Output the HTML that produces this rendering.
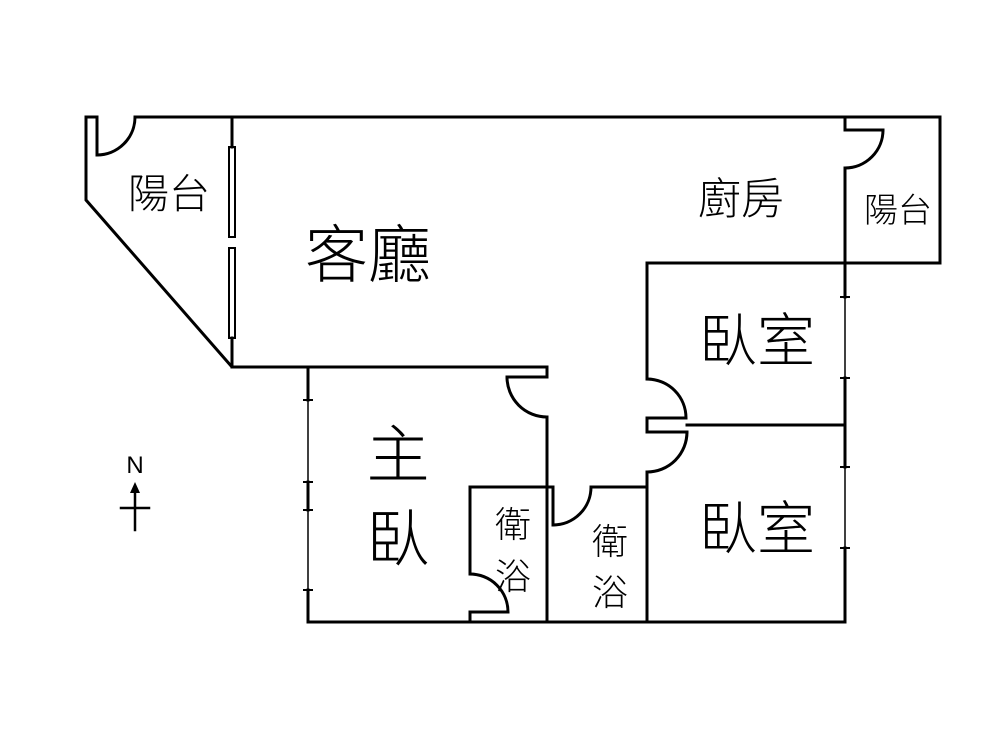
<!DOCTYPE html>
<html><head><meta charset="utf-8"><style>
html,body{margin:0;padding:0;background:#fff;}
svg{display:block;}
text{font-family:"Noto Sans CJK TC","Noto Sans CJK JP",sans-serif;font-weight:300;fill:#000;}
</style></head><body>
<svg width="1000" height="741" viewBox="0 0 1000 741" xmlns="http://www.w3.org/2000/svg">
<g fill="none" stroke="#000" stroke-width="3" stroke-linecap="square">
<path d="M86 117 H97 M135 117 H940 V263 H647 V379"/>
<path d="M86 117 V200 L232 367 H547 V377 H507"/>
<path d="M97 117 V155"/>
<path d="M97 155 A38 38 0 0 0 135 117"/>
<path d="M232 117 V147 M232 338 V367"/>
<rect x="229" y="147" width="6" height="90" stroke-width="2"/>
<rect x="229" y="248" width="6" height="90" stroke-width="2"/>
<path d="M507 377 A40 40 0 0 0 547 417"/>
<path d="M547 417 V622"/>
<path d="M308 367 V400 M308 482 V510 M308 590 V622"/>
<path d="M308 400 V482 M308 510 V590" stroke-width="1.5"/>
<path d="M304 400 H312 M304 482 H312 M304 510 H312 M304 590 H312" stroke-width="2"/>
<path d="M308 622 H845"/>
<path d="M547 487 H470 V574"/>
<path d="M470 574 A38 38 0 0 1 508 612 H470 V622"/>
<path d="M547 487 H553 V525"/>
<path d="M553 525 A38 38 0 0 0 591 487 H647"/>
<path d="M647 379 A39 39 0 0 1 686 418 H647 V432 H687"/>
<path d="M687 432 A40 40 0 0 1 647 472 V622"/>
<path d="M687 425 H845"/>
<path d="M845 117 V130 H883"/>
<path d="M883 130 A38 38 0 0 1 845 168"/>
<path d="M845 168 V297 M845 378 V467 M845 548 V622"/>
<path d="M845 297 V378 M845 467 V548" stroke-width="1.5"/>
<path d="M841 297 H849 M841 378 H849 M841 467 H849 M841 548 H849" stroke-width="2"/>
<path d="M135 530 V490 M121 508 H149" stroke-width="2.5"/>
</g>
<path d="M135 482 L130 493 H140 Z" fill="#000"/>
<text x="135" y="473" font-size="24" text-anchor="middle" style="font-family:'Liberation Sans',sans-serif;font-weight:normal">N</text>
<g text-anchor="middle">
<text x="169" y="208" font-size="41">陽台</text>
<text x="368" y="277" font-size="63">客廳</text>
<text x="741" y="214" font-size="43">廚房</text>
<text x="898" y="222" font-size="34">陽台</text>
<text x="757" y="361" font-size="58">臥室</text>
<text x="398" y="477" font-size="63">主</text>
<text x="398" y="561" font-size="63">臥</text>
<text x="513" y="537" font-size="36">衛</text>
<text x="513" y="589" font-size="36">浴</text>
<text x="610" y="554" font-size="36">衛</text>
<text x="610" y="605" font-size="36">浴</text>
<text x="757" y="549" font-size="58">臥室</text>
</g>
</svg>
</body></html>
